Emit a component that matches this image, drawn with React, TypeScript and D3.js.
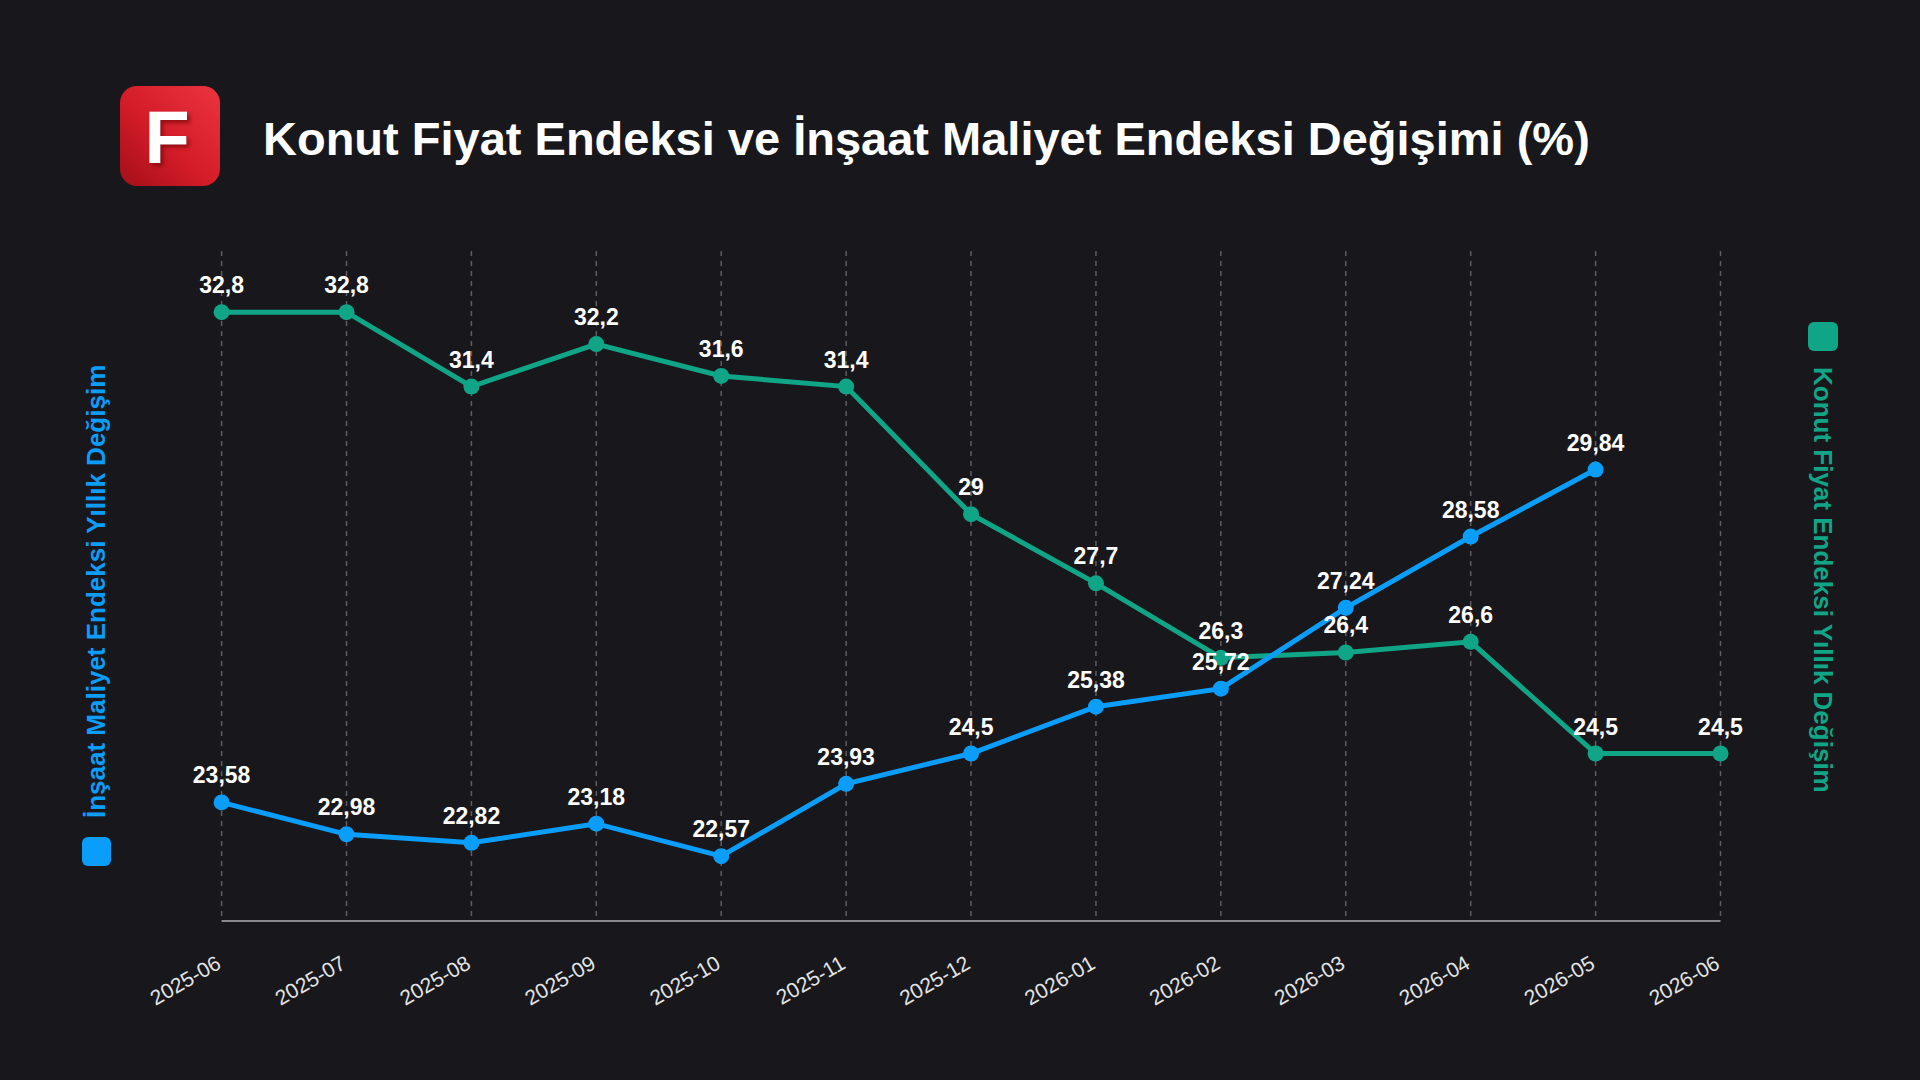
import React from "react";
import * as d3 from "d3";

const months = [
  "2025-06", "2025-07", "2025-08", "2025-09", "2025-10", "2025-11", "2025-12",
  "2026-01", "2026-02", "2026-03", "2026-04", "2026-05", "2026-06",
];
// Konut Fiyat Endeksi (green)
const konutValues = [32.8, 32.8, 31.4, 32.2, 31.6, 31.4, 29, 27.7, 26.3, 26.4, 26.6, 24.5, 24.5];
// İnşaat Maliyet Endeksi (blue), no value for 2026-06
const insaatValues = [23.58, 22.98, 22.82, 23.18, 22.57, 23.93, 24.5, 25.38, 25.72, 27.24, 28.58, 29.84];

const title = "Konut Fiyat Endeksi ve İnşaat Maliyet Endeksi Değişimi (%)";
const leftLabel = "İnşaat Maliyet Endeksi Yıllık Değişim";
const rightLabel = "Konut Fiyat Endeksi Yıllık Değişim";

const W = 1920;
const H = 1080;
const BG = "#18181c";
const BLUE = "#0b9dfa";
const GREEN = "#10a586";
const FONT = "'Liberation Sans', Arial, sans-serif";

const fmt = (v: number) => String(v).replace(".", ",");

export default function App() {
  const x = d3.scalePoint<string>().domain(months).range([221.6, 1720.5]);
  const y = d3.scaleLinear().domain([21.35, 33.95]).range([921, 251]);

  const konut = months.map((m, i) => ({ m, v: konutValues[i] }));
  const insaat = insaatValues.map((v, i) => ({ m: months[i], v }));

  const line = d3
    .line<{ m: string; v: number }>()
    .x((d) => x(d.m)!)
    .y((d) => y(d.v));

  const [y0, y1] = y.range();

  return (
    <div style={{ position: "absolute", left: 0, top: 0, width: W, height: H }}>
      <svg width={W} height={H} style={{ display: "block", background: BG }}>
        <defs>
          <linearGradient id="logoGrad" x1="1" y1="0" x2="0" y2="1">
            <stop offset="0%" stopColor="#ec3440" />
            <stop offset="55%" stopColor="#d41c28" />
            <stop offset="100%" stopColor="#a30f19" />
          </linearGradient>
          <filter id="fShadow" x="-30%" y="-30%" width="160%" height="160%">
            <feDropShadow dx="3" dy="3" stdDeviation="2" floodColor="#600" floodOpacity="0.6" />
          </filter>
        </defs>
        <rect width={W} height={H} fill={BG} />

        {/* logo */}
        <rect x={120} y={86} width={100} height={100} rx={17} fill="url(#logoGrad)" />
        <text
          x={167}
          y={163}
          textAnchor="middle"
          fill="#fff"
          fontFamily={FONT}
          fontWeight={700}
          fontSize={74}
          filter="url(#fShadow)"
        >
          F
        </text>

        {/* title */}
        <text x={263} y={155} fill="#fff" fontFamily={FONT} fontWeight={700} fontSize={47}>
          {title}
        </text>

        {/* vertical dashed grid */}
        {months.map((m) => (
          <line
            key={m}
            x1={x(m)}
            x2={x(m)}
            y1={y1}
            y2={y0}
            stroke="#5c5c62"
            strokeWidth={1.5}
            strokeDasharray="5 5"
          />
        ))}

        {/* x axis */}
        <line x1={x(months[0])} x2={x(months[months.length - 1])} y1={y0} y2={y0} stroke="#8a8a8e" strokeWidth={2} />
        {months.map((m) => (
          <text
            key={m}
            transform={`translate(${x(m)! - 3},${y0 + 40}) rotate(-30)`}
            textAnchor="end"
            dy="0.35em"
            fill="#e4e4e4"
            fontFamily={FONT}
            fontSize={21}
          >
            {m}
          </text>
        ))}

        {/* lines */}
        <path d={line(konut)!} fill="none" stroke={GREEN} strokeWidth={5} />
        <path d={line(insaat)!} fill="none" stroke={BLUE} strokeWidth={5} />

        {konut.map((d) => (
          <circle key={"k" + d.m} cx={x(d.m)} cy={y(d.v)} r={8} fill={GREEN} />
        ))}
        {insaat.map((d) => (
          <circle key={"i" + d.m} cx={x(d.m)} cy={y(d.v)} r={8} fill={BLUE} />
        ))}

        {/* value labels */}
        {[...konut, ...insaat].map((d, i) => (
          <text
            key={"l" + i}
            x={x(d.m)}
            y={y(d.v) - 19}
            textAnchor="middle"
            fill="#fff"
            fontFamily={FONT}
            fontWeight={700}
            fontSize={23}
          >
            {fmt(d.v)}
          </text>
        ))}

        {/* left axis legend */}
        <rect x={82} y={837} width={29} height={29} rx={6} fill={BLUE} />
        <text
          transform={`translate(96,818) rotate(-90)`}
          dy="0.35em"
          fill={BLUE}
          fontFamily={FONT}
          fontWeight={700}
          fontSize={26}
        >
          {leftLabel}
        </text>

        {/* right axis legend */}
        <rect x={1808} y={322} width={30} height={29} rx={6} fill={GREEN} />
        <text
          transform={`translate(1823,367) rotate(90)`}
          dy="0.35em"
          fill={GREEN}
          fontFamily={FONT}
          fontWeight={700}
          fontSize={26}
        >
          {rightLabel}
        </text>
      </svg>
    </div>
  );
}
